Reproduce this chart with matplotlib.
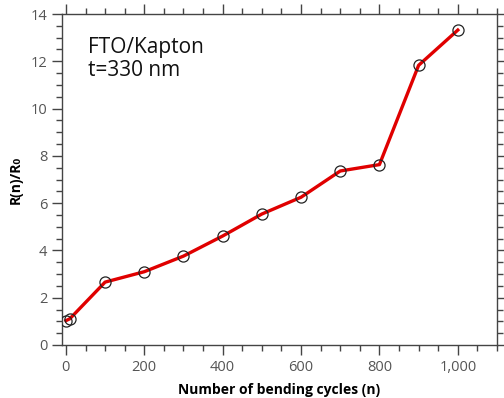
import matplotlib
matplotlib.use("Agg")
import matplotlib.pyplot as plt
from matplotlib.ticker import MultipleLocator, FuncFormatter

cycles = [0, 10, 100, 200, 300, 400, 500, 600, 700, 800, 900, 1000]
ratio = [1.03, 1.11, 2.66, 3.10, 3.76, 4.61, 5.54, 6.25, 7.36, 7.63, 11.83, 13.32]

plt.rcParams['font.family'] = ['Open Sans', 'DejaVu Sans']

fig = plt.figure(figsize=(5.04, 3.98), dpi=100)
ax = fig.add_axes([62/504, 1-345/398, (497-62)/504, (345-14)/398])

ax.plot(cycles, ratio, color='#e00000', lw=2.4, zorder=2)
ax.plot(cycles, ratio, ls='none', marker='o', ms=8, mfc='none', mec='#222222', mew=0.9, zorder=3)

ax.set_xlim(-10, 1100)
ax.set_ylim(0, 14)
ax.xaxis.set_major_locator(MultipleLocator(200))
ax.xaxis.set_minor_locator(MultipleLocator(50))
ax.yaxis.set_major_locator(MultipleLocator(2))
ax.yaxis.set_minor_locator(MultipleLocator(0.5))
ax.xaxis.set_major_formatter(FuncFormatter(lambda v, p: f"{int(v):,}"))

ax.tick_params(which='both', direction='out', top=True, right=True, color='#444444',
               labelcolor='#555555', labelsize=10.5)
ax.tick_params(which='major', length=7, width=1)
ax.tick_params(which='minor', length=4, width=1)
for s in ax.spines.values():
    s.set_color('#444444')
    s.set_linewidth(1)

ax.set_xlabel('Number of bending cycles (n)', fontweight='bold', fontsize=10, labelpad=6)
ax.set_ylabel('R(n)/R₀', fontweight='bold', fontsize=10, labelpad=6)

ax.text(0.06, 0.93, 'FTO/Kapton\nt=330 nm', transform=ax.transAxes, fontsize=15,
        va='top', ha='left', color='#111111', linespacing=1.1)

fig.savefig('out.png', dpi=100)
